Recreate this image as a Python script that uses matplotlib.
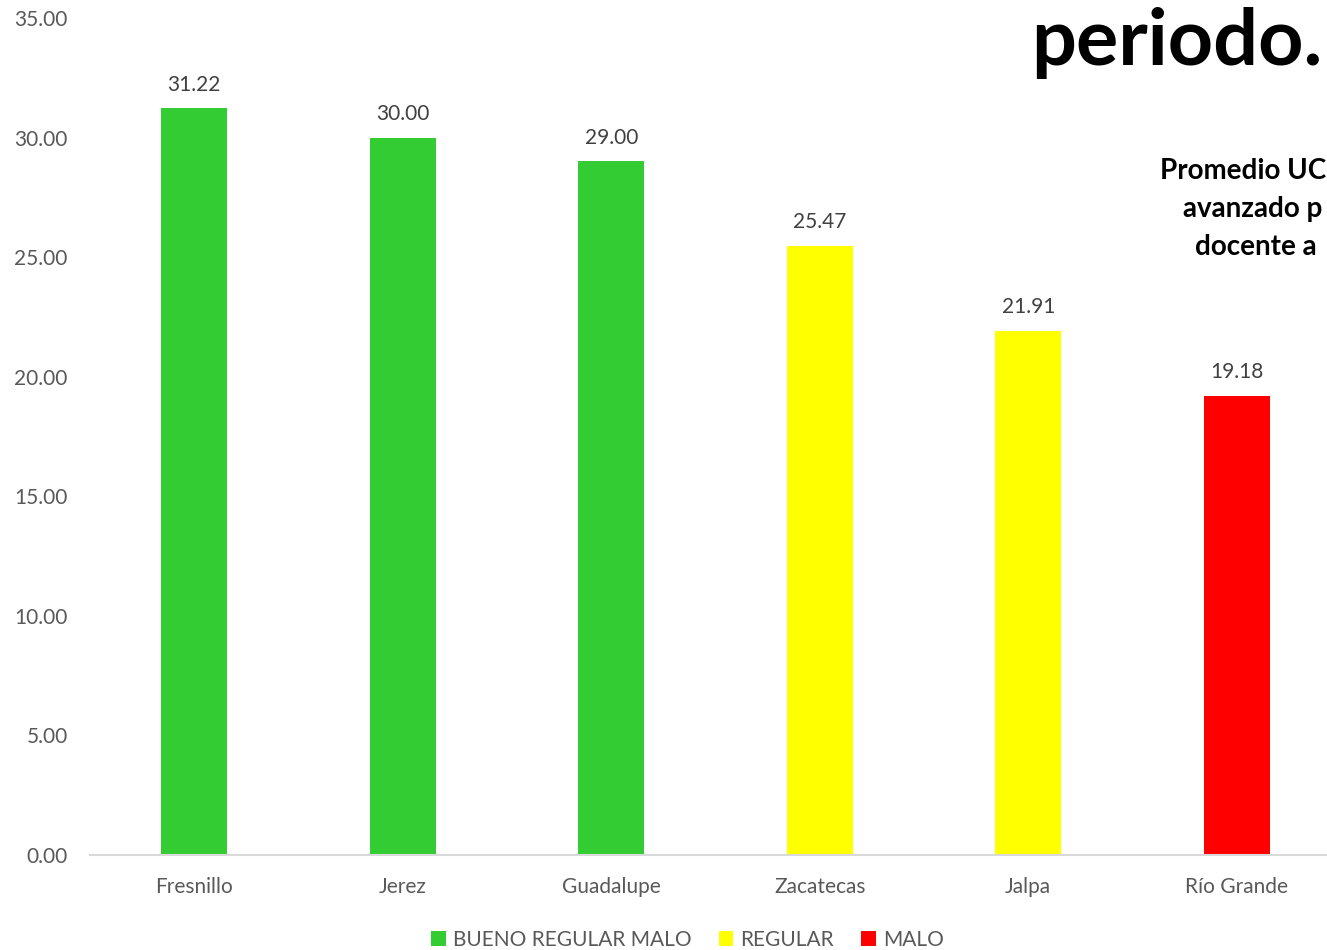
import matplotlib
matplotlib.use("Agg")
import matplotlib.pyplot as plt
from matplotlib.patches import Patch

categories = ["Fresnillo", "Jerez", "Guadalupe", "Zacatecas", "Jalpa", "Río Grande"]
values = [31.22, 30.00, 29.00, 25.47, 21.91, 19.18]
bar_colors = ["#33CC33", "#33CC33", "#33CC33", "#FFFF00", "#FFFF00", "#FF0000"]
legend_labels = ["BUENO REGULAR MALO", "REGULAR", "MALO"]
legend_colors = ["#33CC33", "#FFFF00", "#FF0000"]
yticks = [0, 5, 10, 15, 20, 25, 30, 35]

plt.rcParams['font.family'] = ['Lato', 'DejaVu Sans']

W, H = 1327, 950
fig = plt.figure(figsize=(W / 100, H / 100), dpi=100)
ax = fig.add_axes([90 / W, 95 / H, (1341 - 90) / W, (855 - 18) / H])

x = list(range(len(categories)))
bars = ax.bar(x, values, width=0.317, color=bar_colors)
ax.set_xlim(-0.5, 5.5)
ax.set_ylim(0, 35)
ax.set_yticks(yticks)
ax.set_yticklabels([f"{v:.2f}" for v in yticks], fontsize=15, color="#595959")
ax.set_xticks(x)
ax.set_xticklabels(categories, fontsize=15, color="#595959")
ax.tick_params(axis='both', length=0)
ax.tick_params(axis='y', pad=16)
ax.tick_params(axis='x', pad=16)
for s in ["top", "right", "left"]:
    ax.spines[s].set_visible(False)
ax.spines["bottom"].set_color("#D9D9D9")
ax.spines["bottom"].set_linewidth(1.5)

for b, v in zip(bars, values):
    ax.annotate(f"{v:.2f}", (b.get_x() + b.get_width() / 2, v), xytext=(0, 10),
                textcoords="offset points", ha="center", va="bottom",
                fontsize=15, color="#404040")

handles = [Patch(facecolor=c, label=l) for c, l in zip(legend_colors, legend_labels)]
fig.legend(handles=handles, loc="center", bbox_to_anchor=(0.518, 0.011), ncol=3,
           frameon=False, fontsize=15, labelcolor="#595959", handlelength=0.7,
           handleheight=0.7, handletextpad=0.35, columnspacing=1.3)

fig.text(1031 / W, 1 - 65 / H, "periodo.", fontsize=57, fontweight="bold",
         color="black", ha="left", va="baseline")
sub_lines = [("Promedio UC", 1160, 179), ("avanzado p", 1183, 217), ("docente a", 1195, 255)]
for t, px, py in sub_lines:
    fig.text(px / W, 1 - py / H, t, fontsize=20, fontweight="bold",
             color="black", ha="left", va="baseline")

fig.savefig("out.png", dpi=100)
